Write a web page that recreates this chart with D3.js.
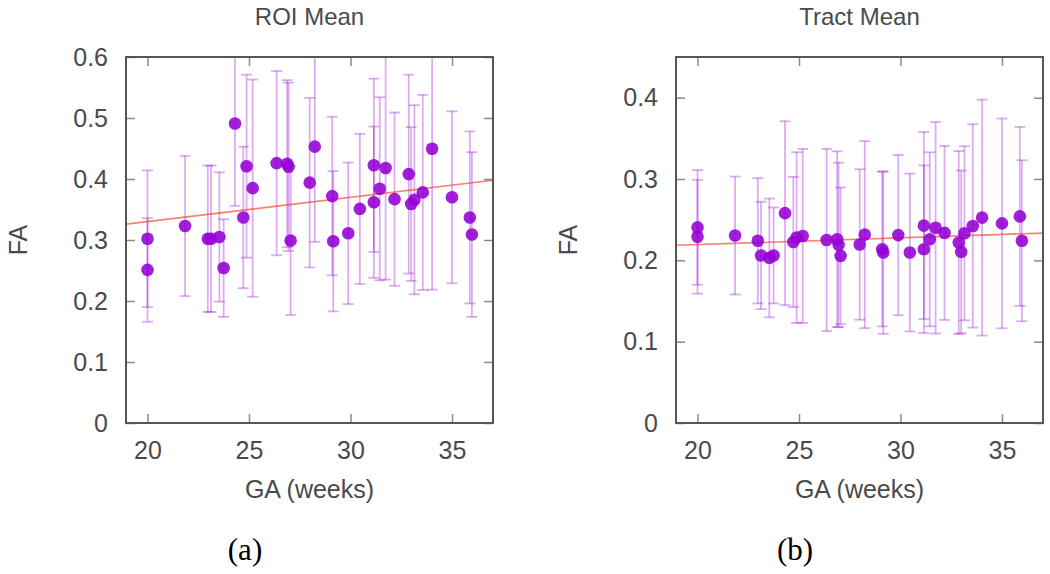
<!DOCTYPE html>
<html>
<head>
<meta charset="utf-8">
<script src="https://cdn.jsdelivr.net/npm/d3@7"></script>
<style>
  html, body { margin: 0; padding: 0; background: #fff; }
  svg { display: block; }
</style>
</head>
<body>
<svg id="chart" width="1050" height="574"></svg>
<script>
// ---- data ----
const ga = [20.0, 20.0, 21.85, 22.97, 23.13, 23.54, 23.75, 24.31, 24.72, 24.88, 25.18,
            26.36, 26.88, 26.95, 27.05, 27.99, 28.24, 29.10, 29.15, 29.89, 30.46,
            31.15, 31.15, 31.44, 31.73, 32.17, 32.87, 32.99, 33.15, 33.56, 34.02,
            35.00, 35.88, 35.98];

const roiFA  = [0.302, 0.251, 0.323, 0.302, 0.302, 0.305, 0.254, 0.491, 0.337, 0.421, 0.385,
                0.426, 0.425, 0.420, 0.299, 0.394, 0.453, 0.372, 0.298, 0.311, 0.351,
                0.4225, 0.362, 0.384, 0.418, 0.367, 0.408, 0.359, 0.366, 0.378, 0.4495,
                0.370, 0.337, 0.309];
const roiErr = [0.112, 0.085, 0.115, 0.120, 0.120, 0.106, 0.080, 0.135, 0.116, 0.150, 0.178,
                0.151, 0.137, 0.138, 0.122, 0.139, 0.156, 0.130, 0.115, 0.116, 0.123,
                0.142, 0.124, 0.150, 0.183, 0.142, 0.163, 0.126, 0.155, 0.160, 0.231,
                0.141, 0.141, 0.135];

const tractFA  = [0.2405, 0.229, 0.2305, 0.224, 0.206, 0.203, 0.206, 0.258, 0.2226, 0.228, 0.230,
                  0.225, 0.226, 0.219, 0.2055, 0.2195, 0.2316, 0.2137, 0.2096, 0.231, 0.2096,
                  0.2427, 0.2137, 0.2259, 0.240, 0.2337, 0.2219, 0.2104, 0.2333, 0.2423, 0.2525,
                  0.2454, 0.254, 0.2241];
const tractErr = [0.0705, 0.070, 0.0725, 0.077, 0.066, 0.073, 0.059, 0.113, 0.080, 0.105, 0.107,
                  0.112, 0.108, 0.101, 0.084, 0.0925, 0.115, 0.095, 0.100, 0.0985, 0.097,
                  0.115, 0.103, 0.107, 0.130, 0.107, 0.1125, 0.100, 0.107, 0.125, 0.145,
                  0.129, 0.110, 0.099];

// fitted line end values (FA at the left and right edge of the x range)
const roiFit   = [0.326, 0.398];
const tractFit = [0.2185, 0.2335];

const xDomain = [18.94, 37.02];
const xTicks = [20, 25, 30, 35];
const roiYTicks = [0, 0.1, 0.2, 0.3, 0.4, 0.5, 0.6];
const tractYTicks = [0, 0.1, 0.2, 0.3, 0.4];
const titles = ["ROI Mean", "Tract Mean"];
const subLabels = ["(a)", "(b)"];
const xLabel = "GA (weeks)";
const yLabel = "FA";

// ---- drawing ----
const svg = d3.select("#chart");
const FONT = "'Liberation Sans', Arial, Helvetica, sans-serif";
const TXT = "#4a4a4a";
const PURPLE = "#9400d3";

const panels = [
  { left: 126, right: 493, top: 57, bottom: 423, yMax: 0.6, yTicks: roiYTicks,
    fa: roiFA, err: roiErr, fit: roiFit, title: titles[0], sub: subLabels[0],
    subX: 245, yLabX: 27 },
  { left: 676, right: 1043, top: 57, bottom: 423, yMax: 0.45, yTicks: tractYTicks,
    fa: tractFA, err: tractErr, fit: tractFit, title: titles[1], sub: subLabels[1],
    subX: 795, yLabX: 577 }
];

panels.forEach((p, i) => {
  const x = d3.scaleLinear().domain(xDomain).range([p.left, p.right]);
  const y = d3.scaleLinear().domain([0, p.yMax]).range([p.bottom, p.top]);
  const g = svg.append("g");

  const clipId = "clip" + i;
  svg.append("clipPath").attr("id", clipId)
    .append("rect").attr("x", p.left).attr("y", p.top)
    .attr("width", p.right - p.left).attr("height", p.bottom - p.top);

  // axes (ticks inside, mirrored)
  const styleAxis = (ax, showText) => {
    ax.select(".domain").remove();
    ax.selectAll(".tick line").attr("stroke", "#8a8a8a").attr("stroke-width", 1.5);
    ax.selectAll(".tick text").attr("fill", TXT).style("font-family", FONT).style("font-size", "25px");
    if (!showText) ax.selectAll(".tick text").remove();
  };
  const xb = g.append("g").attr("transform", `translate(0,${p.bottom})`)
    .call(d3.axisBottom(x).tickValues(xTicks).tickSizeInner(-9).tickSizeOuter(0).tickPadding(18).tickFormat(d3.format("d")));
  styleAxis(xb, true);
  const xt = g.append("g").attr("transform", `translate(0,${p.top})`)
    .call(d3.axisTop(x).tickValues(xTicks).tickSizeInner(-9).tickSizeOuter(0));
  styleAxis(xt, false);
  const yl = g.append("g").attr("transform", `translate(${p.left},0)`)
    .call(d3.axisLeft(y).tickValues(p.yTicks).tickSizeInner(-9).tickSizeOuter(0).tickPadding(18)
      .tickFormat(d => d === 0 ? "0" : d3.format(".1f")(d)));
  styleAxis(yl, true);
  const yr = g.append("g").attr("transform", `translate(${p.right},0)`)
    .call(d3.axisRight(y).tickValues(p.yTicks).tickSizeInner(-9).tickSizeOuter(0));
  styleAxis(yr, false);

  // data layer
  const d = ga.map((gv, k) => ({ ga: gv, fa: p.fa[k], err: p.err[k] }));
  const dl = g.append("g").attr("clip-path", `url(#${clipId})`);

  // error bars
  const eb = dl.append("g").attr("stroke", PURPLE).attr("stroke-opacity", 0.33).attr("stroke-width", 1.8).attr("fill", "none");
  d.forEach(e => {
    const cx = x(e.ga), y1 = y(e.fa + e.err), y2 = y(e.fa - e.err);
    eb.append("line").attr("x1", cx).attr("x2", cx).attr("y1", y1).attr("y2", y2);
    eb.append("line").attr("x1", cx - 5.5).attr("x2", cx + 5.5).attr("y1", y1).attr("y2", y1);
    eb.append("line").attr("x1", cx - 5.5).attr("x2", cx + 5.5).attr("y1", y2).attr("y2", y2);
  });

  // fit line
  dl.append("line")
    .attr("x1", x(xDomain[0])).attr("y1", y(p.fit[0]))
    .attr("x2", x(xDomain[1])).attr("y2", y(p.fit[1]))
    .attr("stroke", "#f03c28").attr("stroke-opacity", 0.65).attr("stroke-width", 1.6);

  // points
  dl.append("g").selectAll("circle").data(d).join("circle")
    .attr("cx", e => x(e.ga)).attr("cy", e => y(e.fa)).attr("r", 6.3)
    .attr("fill", PURPLE).attr("fill-opacity", 0.88);

  // frame
  g.append("rect").attr("x", p.left).attr("y", p.top)
    .attr("width", p.right - p.left).attr("height", p.bottom - p.top)
    .attr("fill", "none").attr("stroke", "#555").attr("stroke-width", 2);

  // title
  g.append("text").attr("x", (p.left + p.right) / 2).attr("y", 25)
    .attr("text-anchor", "middle").attr("fill", TXT)
    .style("font-family", FONT).style("font-size", "24px").text(p.title);

  // x label
  g.append("text").attr("x", (p.left + p.right) / 2).attr("y", 498)
    .attr("text-anchor", "middle").attr("fill", TXT)
    .style("font-family", FONT).style("font-size", "25px").text(xLabel);

  // y label
  g.append("text").attr("transform", `translate(${p.yLabX},${(p.top + p.bottom) / 2}) rotate(-90)`)
    .attr("text-anchor", "middle").attr("fill", TXT)
    .style("font-family", FONT).style("font-size", "25px").text(yLabel);

  // sub label
  g.append("text").attr("x", p.subX).attr("y", 560)
    .attr("text-anchor", "middle").attr("fill", "#000")
    .style("font-family", "'Liberation Serif', 'Times New Roman', serif").style("font-size", "31px").text(p.sub);
});
</script>
</body>
</html>
